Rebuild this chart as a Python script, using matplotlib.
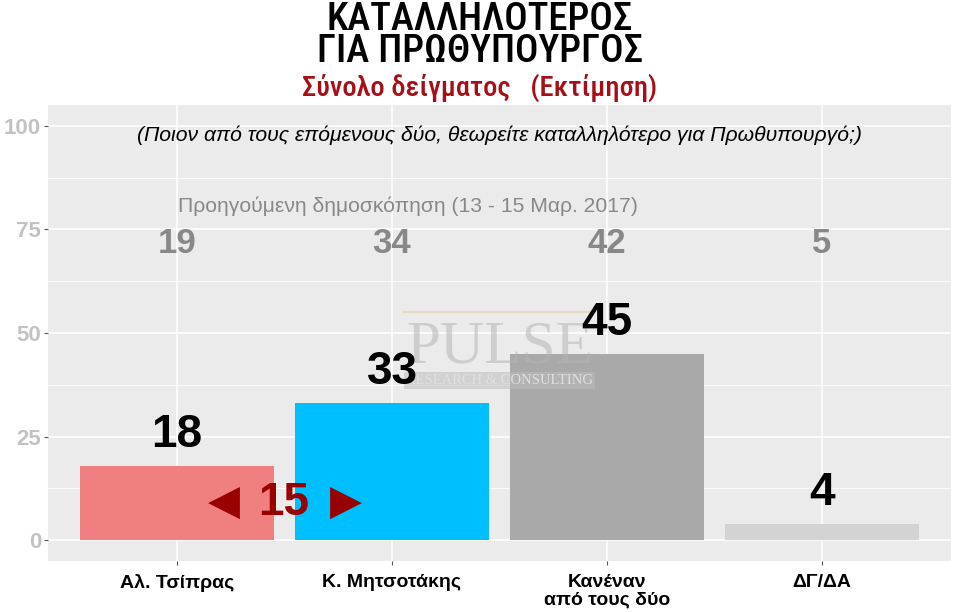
import matplotlib
matplotlib.use("Agg")
import matplotlib.pyplot as plt
import numpy as np

categories = ["Αλ. Τσίπρας", "Κ. Μητσοτάκης", "Κανέναν\nαπό τους δύο", "ΔΓ/ΔΑ"]
values = [18, 33, 45, 4]
previous = [19, 34, 42, 5]
colors = ["#F08080", "#00BFFF", "#A9A9A9", "#D3D3D3"]
gap_value = "15"
yticks = [0, 25, 50, 75, 100]

plt.rcParams['font.family'] = ['Liberation Sans', 'DejaVu Sans']

fig = plt.figure(figsize=(9.6, 6.12), dpi=100)
ax = fig.add_axes([0.05, 0.0833, 0.9406, 0.7451])
ax.set_facecolor("#EBEBEB")

x = np.arange(len(categories))
ax.bar(x, values, width=0.9, color=colors, zorder=3)
ax.set_xlim(-0.6, len(categories) - 0.4)
ax.set_ylim(-5, 105)

# grid
for v in yticks:
    ax.axhline(v, color="white", lw=1.1, zorder=1)
for v in np.arange(12.5, 100, 25):
    ax.axhline(v, color="white", lw=0.6, zorder=1)
for xi in x:
    ax.axvline(xi, color="white", lw=1.1, zorder=1)

for s in ax.spines.values():
    s.set_visible(False)

ax.set_yticks(yticks)
ax.set_yticklabels([str(v) for v in yticks], fontsize=16, fontweight="bold", color="#C2C2C2")
ax.set_xticks(x)
ax.set_xticklabels(categories, fontsize=14, fontweight="bold", color="black", linespacing=1.1)
ax.tick_params(axis="both", length=3, color="#555555", width=0.8)
ax.tick_params(axis="x", pad=6)
ax.tick_params(axis="y", pad=2)

# watermark
serif = ["Liberation Serif", "DejaVu Serif"]
ax.text(1.5, 46.5, "PULSE", fontsize=44, family=serif,
        color="#B5B5B5", alpha=0.55, ha="center", va="center", zorder=5)
ax.text(1.5, 38.5, "RESEARCH & CONSULTING", fontsize=10.5, family=serif,
        color="#E0E0E0", ha="center", va="center", zorder=5,
        bbox=dict(facecolor="#BDBDBD", edgecolor="none", alpha=0.55, pad=1.5))
ax.plot([1.05, 1.95], [55.0, 55.0], color="#E8C9A0", lw=1.2, alpha=0.7, zorder=2)

# bar labels
for xi, v in zip(x, values):
    ax.text(xi, v + 7.5, str(v), fontsize=33, fontweight="bold", color="black",
            ha="center", va="center", zorder=6)

# previous values
for xi, p in zip(x, previous):
    ax.text(xi, 71.5, str(p), fontsize=25, fontweight="bold", color="#888888",
            ha="center", va="center", zorder=4)

ax.text(1.074, 80.7, "Προηγούμενη δημοσκόπηση (13 - 15 Μαρ. 2017)", fontsize=15.2,
        color="#888888", ha="center", va="center", zorder=4)

ax.text(1.5, 97.8, "(Ποιον από τους επόμενους δύο, θεωρείτε καταλληλότερο για Πρωθυπουργό;)",
        fontsize=15.2, style="italic", color="black", ha="center", va="center", zorder=4)

# gap annotation
dark_red = "#990000"
ax.text(0.498, 9.1, gap_value, fontsize=33, fontweight="bold", color=dark_red,
        ha="center", va="center", zorder=6)
ax.text(0.219, 9.1, "◀", fontsize=30, color=dark_red, family=["DejaVu Sans"],
        ha="center", va="center", zorder=6)
ax.text(0.786, 9.1, "▶", fontsize=30, color=dark_red, family=["DejaVu Sans"],
        ha="center", va="center", zorder=6)

# titles
title_font = ['Roboto Condensed', 'Liberation Sans', 'DejaVu Sans']
fig.text(0.5, 1 - 19 / 612, "ΚΑΤΑΛΛΗΛΟΤΕΡΟΣ", fontsize=28, family=title_font,
         fontweight="medium", ha="center", va="center", color="black")
fig.text(0.5, 1 - 52 / 612, "ΓΙΑ ΠΡΩΘΥΠΟΥΡΓΟΣ", fontsize=28, family=title_font,
         fontweight="medium", ha="center", va="center", color="black")
fig.text(0.5, 1 - 88 / 612, "Σύνολο δείγματος   (Εκτίμηση)", fontsize=20.5, family=title_font,
         fontweight="medium", ha="center", va="center", color="#A50F15")

fig.savefig("out.png", dpi=100, facecolor="white")
